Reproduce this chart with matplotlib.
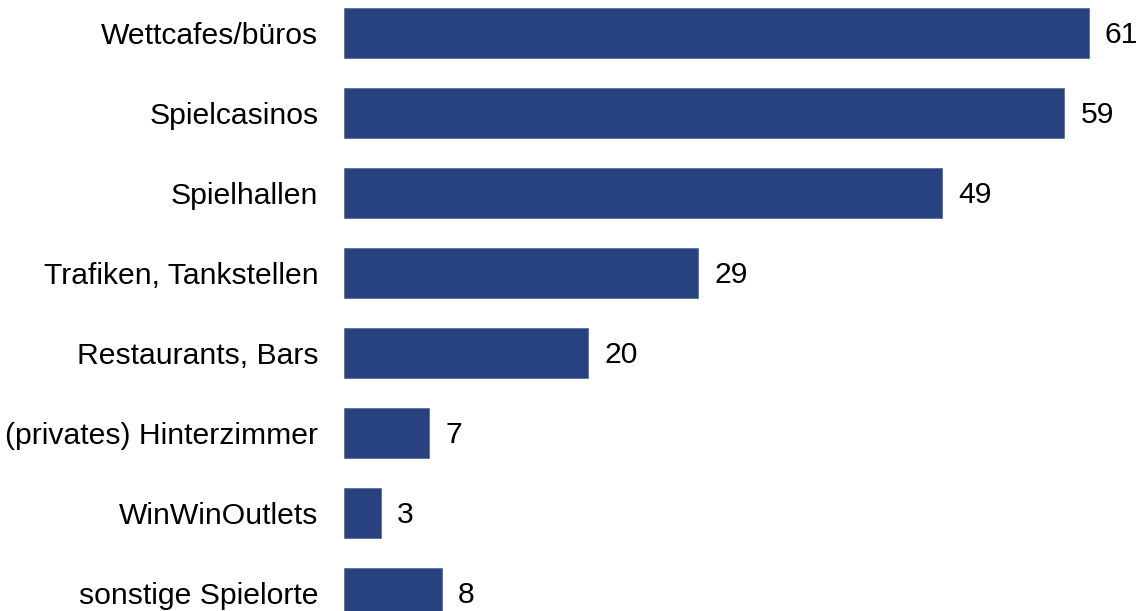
import matplotlib.pyplot as plt

# Spielorte, von oben nach unten
orte = ['Wettcafes/büros', 'Spielcasinos', 'Spielhallen', 'Trafiken, Tankstellen',
        'Restaurants, Bars', '(privates) Hinterzimmer', 'WinWinOutlets',
        'sonstige Spielorte']
werte = [61, 59, 49, 29, 20, 7, 3, 8]

BAR_COLOR = '#27427f'
W, H = 1137, 611

plt.rcParams['font.family'] = ['Liberation Sans', 'DejaVu Sans']

fig = plt.figure(figsize=(W / 100, H / 100), dpi=100)
# axes in pixel terms: left at 344px, rows 80px apart, first row centred at 33px
top_px, bottom_px = 33 - 40, 593 + 40
ax = fig.add_axes([344 / W, (H - bottom_px) / H, (W - 344) / W, (bottom_px - top_px) / H])

pos = list(range(len(orte)))
ax.barh(pos, werte, height=0.63, color=BAR_COLOR, edgecolor='#5a6fa0', linewidth=0.6)

ax.set_xlim(0, (W - 344) / 12.21)
ax.set_ylim(len(orte) - 0.5, -0.5)

ax.set_yticks(pos)
ax.set_yticklabels(orte, fontsize=21.7)
ax.tick_params(axis='y', length=0, pad=18.5)
ax.set_xticks([])
for s in ax.spines.values():
    s.set_visible(False)

for p, v in zip(pos, werte):
    ax.annotate(str(v), (v, p), xytext=(11.5, -1.5), textcoords='offset points',
                va='center', ha='left', fontsize=21.7)

fig.savefig('out.png', dpi=100)
